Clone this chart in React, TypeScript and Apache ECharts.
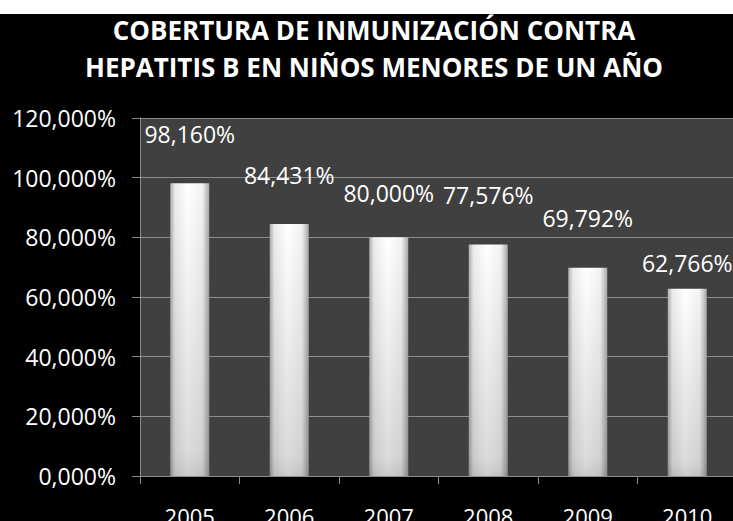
import React, { useEffect, useRef } from "react";
import * as echarts from "echarts";

const titleLines = ["COBERTURA DE INMUNIZACIÓN CONTRA", "HEPATITIS B EN NIÑOS MENORES DE UN AÑO"];
const years = ["2005", "2006", "2007", "2008", "2009", "2010"];
const coverage = [98.16, 84.431, 80.0, 77.576, 69.792, 62.766];
const yTicks = { min: 0, max: 120, interval: 20 };
// label gap above each bar (style only)
const labelDistances = [38, 38, 33, 38, 38, 14];

const fmt = (v: number) => v.toFixed(3).replace(".", ",") + "%";

export default function App() {
  const ref = useRef<HTMLDivElement>(null);
  useEffect(() => {
    if (!ref.current) return;
    const chart = echarts.init(ref.current, null, { renderer: "svg" });
    const font = "'Open Sans', 'Liberation Sans', sans-serif";
    chart.setOption({
      animation: false,
      backgroundColor: "#000000",
      graphic: [
        {
          type: "text",
          x: 374,
          y: 34.5,
          style: {
            text: titleLines.join("\n"),
            fill: "#ffffff",
            fontFamily: font,
            fontWeight: "bold",
            fontSize: 26,
            lineHeight: 37,
            textAlign: "center",
            textVerticalAlign: "middle",
          },
        },
      ],
      grid: {
        left: 140,
        top: 104,
        width: 597,
        height: 358,
        show: true,
        backgroundColor: "#404040",
        borderWidth: 0,
        containLabel: false,
        outerBoundsMode: "none",
      },
      xAxis: {
        type: "category",
        data: years,
        axisLine: { show: true, lineStyle: { color: "#8c8c8c", width: 1 } },
        axisTick: { show: true, length: 8, lineStyle: { color: "#8c8c8c" } },
        axisLabel: { color: "#ffffff", fontSize: 22, fontFamily: font, margin: 29 },
        splitLine: { show: false },
      },
      yAxis: {
        type: "value",
        min: yTicks.min,
        max: yTicks.max,
        interval: yTicks.interval,
        axisLine: { show: true, lineStyle: { color: "#8c8c8c", width: 1 } },
        axisTick: { show: true, length: 8, lineStyle: { color: "#8c8c8c" } },
        axisLabel: { color: "#ffffff", fontSize: 23, fontFamily: font, margin: 24, formatter: (v: number) => fmt(v) },
        splitLine: { show: true, lineStyle: { color: "#8c8c8c", width: 1 } },
      },
      series: [
        {
          type: "bar",
          barWidth: 39,
          data: coverage.map((v, i) => ({
            value: v,
            label: { distance: labelDistances[i] },
          })),
          itemStyle: {
            color: new echarts.graphic.LinearGradient(0, 0, 1, 0, [
              { offset: 0, color: "#adadad" },
              { offset: 0.12, color: "#ebebeb" },
              { offset: 0.45, color: "#ffffff" },
              { offset: 0.82, color: "#f2f2f2" },
              { offset: 1, color: "#a8a8a8" },
            ]),
          },
          label: {
            show: true,
            position: "top",
            color: "#ffffff",
            fontSize: 23,
            fontFamily: font,
            formatter: (p: any) => fmt(p.value),
          },
        },
        {
          type: "bar",
          barWidth: 39,
          barGap: "-100%",
          silent: true,
          data: coverage,
          itemStyle: {
            color: new echarts.graphic.LinearGradient(0, 0, 0, 1, [
              { offset: 0, color: "rgba(0,0,0,0)" },
              { offset: 0.92, color: "rgba(0,0,0,0.14)" },
              { offset: 1, color: "rgba(0,0,0,0.2)" },
            ]),
          },
          label: { show: false },
        },
      ],
    });
    return () => chart.dispose();
  }, []);
  return (
    <div style={{ position: "absolute", left: 0, top: 0, width: 733, height: 521, background: "#ffffff" }}>
      <div ref={ref} style={{ position: "absolute", left: 0, top: 14, width: 733, height: 507 }} />
    </div>
  );
}
